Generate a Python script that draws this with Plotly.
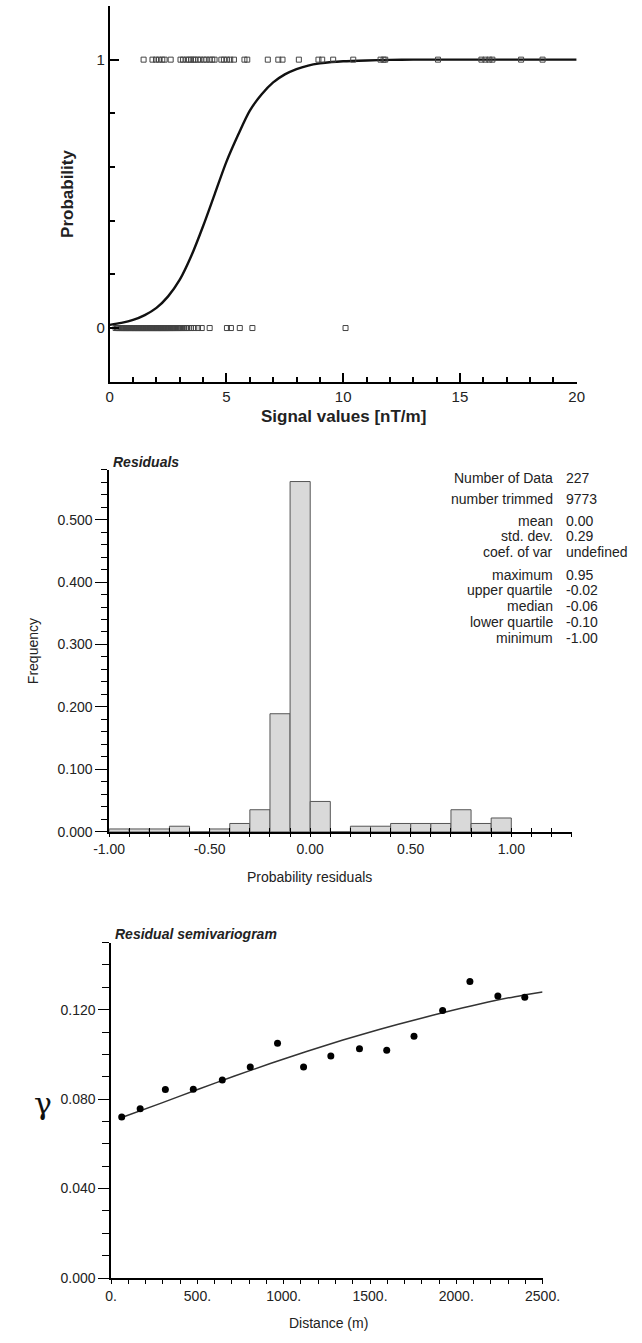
import plotly.graph_objects as go

W, H = 642, 1343

# ---------------- data ----------------
# Top panel: observations (signal value, class 1) and (signal value, class 0)
signal_one = [1.45, 1.83, 1.98, 2.11, 2.25, 2.35, 2.61, 3.03, 3.14, 3.28, 3.39, 3.48,
              3.58, 3.66, 3.78, 3.89, 4.03, 4.14, 4.28, 4.39, 4.49, 4.78, 4.89, 5.02,
              5.16, 5.32, 5.77, 5.89, 6.77, 7.22, 7.40, 8.10, 8.94, 9.10, 9.57, 10.43,
              11.60, 11.73, 11.80, 14.06, 15.92, 16.09, 16.26, 16.39, 17.62, 18.54]
signal_zero = [0.25, 0.31, 0.35, 0.38, 0.42, 0.47, 0.50, 0.53, 0.57, 0.60, 0.62, 0.66,
               0.69, 0.71, 0.74, 0.78, 0.80, 0.83, 0.86, 0.90, 0.92, 0.95, 0.98, 1.01,
               1.04, 1.06, 1.09, 1.12, 1.15, 1.18, 1.20, 1.23, 1.26, 1.28, 1.31, 1.34,
               1.37, 1.40, 1.42, 1.45, 1.48, 1.50, 1.53, 1.56, 1.59, 1.62, 1.64, 1.67,
               1.70, 1.73, 1.76, 1.78, 1.81, 1.84, 1.87, 1.90, 1.92, 1.95, 1.98, 2.01,
               2.04, 2.06, 2.09, 2.12, 2.15, 2.18, 2.20, 2.23, 2.26, 2.29, 2.32, 2.35,
               2.38, 2.41, 2.44, 2.47, 2.50, 2.53, 2.57, 2.60, 2.64, 2.67, 2.71, 2.75,
               2.79, 2.83, 2.87, 2.92, 2.96, 3.01, 3.06, 3.12, 3.18, 3.25, 3.31, 3.38,
               3.48, 3.62, 3.78, 3.94, 4.28, 5.02, 5.19, 5.57, 6.11, 10.10]
# Fitted logistic curve
curve_x = [0, 0.5, 1, 1.5, 2, 2.5, 3, 3.5, 4, 4.5, 5, 5.5, 6, 6.5, 7, 7.5, 8, 8.5,
           9, 9.5, 10, 11, 12, 13, 14, 16, 18, 20]
curve_p = [0.012, 0.019, 0.030, 0.048, 0.075, 0.118, 0.18, 0.27, 0.38, 0.50, 0.62,
           0.72, 0.81, 0.87, 0.915, 0.945, 0.965, 0.978, 0.986, 0.991, 0.994,
           0.997, 0.999, 1.0, 1.0, 1.0, 1.0, 1.0]

# Middle panel: histogram of residuals
bin_left = [-1.0, -0.9, -0.8, -0.7, -0.6, -0.5, -0.4, -0.3, -0.2, -0.1,
            0.0, 0.1, 0.2, 0.3, 0.4, 0.5, 0.6, 0.7, 0.8, 0.9]
bin_freq = [0.0044, 0.0044, 0.0044, 0.0088, 0.0, 0.0044, 0.0132, 0.0352, 0.189, 0.561,
            0.0485, 0.0, 0.0088, 0.0088, 0.0132, 0.0132, 0.0132, 0.0352, 0.0132, 0.022]
stat_labels = ["Number of Data", "number trimmed", "mean", "std. dev.", "coef. of var",
               "maximum", "upper quartile", "median", "lower quartile", "minimum"]
stat_values = ["227", "9773", "0.00", "0.29", "undefined",
               "0.95", "-0.02", "-0.06", "-0.10", "-1.00"]

# Bottom panel: residual semivariogram
lag_dist = [61, 168, 314, 476, 644, 806, 964, 1115, 1273, 1439, 1597, 1755,
            1921, 2079, 2241, 2397]
gamma_exp = [0.0720, 0.0757, 0.0843, 0.0844, 0.0886, 0.0944, 0.1050, 0.0944,
             0.0993, 0.1025, 0.1019, 0.1081, 0.1196, 0.1326, 0.1261, 0.1255]
model_dist = [61, 290, 501, 711, 922, 1132, 1343, 1553, 1764, 1974, 2185, 2340, 2500]
model_gamma = [0.0718, 0.0782, 0.0843, 0.0902, 0.0959, 0.1013, 0.1064, 0.1111,
               0.1155, 0.1196, 0.1234, 0.1258, 0.1279]

# ---------------- helpers ----------------
def fx(p):
    return p / W

def fy(p):
    return 1 - p / H

FONT = "Liberation Sans, Arial, sans-serif"
TXT = "#222222"

fig = go.Figure()

# Top panel
fig.add_trace(go.Scatter(x=curve_x, y=curve_p, mode="lines",
                         line=dict(color="#111111", width=2.4, shape="spline", smoothing=0.8),
                         xaxis="x", yaxis="y", hoverinfo="skip"))
fig.add_trace(go.Scatter(x=signal_one, y=[1] * len(signal_one), mode="markers",
                         marker=dict(symbol="square-open", size=5, color="#444444", line=dict(width=1)),
                         xaxis="x", yaxis="y", cliponaxis=False))
fig.add_trace(go.Scatter(x=signal_zero, y=[0] * len(signal_zero), mode="markers",
                         marker=dict(symbol="square-open", size=5, color="#444444", line=dict(width=1)),
                         xaxis="x", yaxis="y", cliponaxis=False))

# Histogram
fig.add_trace(go.Bar(x=bin_left, y=bin_freq, width=0.1, offset=0,
                     marker=dict(color="#d9d9d9", line=dict(color="#555555", width=1)),
                     xaxis="x2", yaxis="y2"))
# empty trace so the tick-overlay axis is drawn
fig.add_trace(go.Scatter(x=[], y=[], xaxis="x4", yaxis="y2", hoverinfo="skip"))

# Semivariogram
fig.add_trace(go.Scatter(x=model_dist, y=model_gamma, mode="lines",
                         line=dict(color="#333333", width=1.5, shape="spline", smoothing=0.8),
                         xaxis="x3", yaxis="y3"))
fig.add_trace(go.Scatter(x=lag_dist, y=gamma_exp, mode="markers",
                         marker=dict(symbol="circle", size=7, color="#000000"),
                         xaxis="x3", yaxis="y3", cliponaxis=False))

common = dict(showgrid=False, zeroline=False, showline=True, linecolor="#000000",
              tickcolor="#000000", tickfont=dict(family=FONT, size=14, color=TXT))

hist_ticks = [-1, -0.5, 0, 0.5, 1]

layout = dict(
    width=W, height=H, margin=dict(l=0, r=0, t=0, b=0),
    paper_bgcolor="white", plot_bgcolor="white", showlegend=False,
    font=dict(family=FONT, color=TXT),
    xaxis=dict(common, domain=[fx(99), fx(592)], range=[0, 20], anchor="y",
               linewidth=2, ticks="inside", ticklen=9, tickwidth=1.5,
               tickvals=[0, 5, 10, 15, 20], ticktext=["0", "5", "10", "15", "20"],
               tickfont=dict(family=FONT, size=15, color=TXT),
               minor=dict(dtick=1, tick0=0, ticks="inside", ticklen=5, tickcolor="#000000")),
    yaxis=dict(common, domain=[fy(384), fy(6)], range=[-0.2, 1.2], anchor="x",
               linewidth=2, ticks="inside", ticklen=9, tickwidth=1.5,
               tickvals=[0, 1], ticktext=["0", "1"],
               tickfont=dict(family=FONT, size=15, color=TXT),
               minor=dict(dtick=0.2, tick0=0, ticks="inside", ticklen=5, tickcolor="#000000")),
    xaxis2=dict(common, domain=[fx(98.3), fx(586.7)], range=[-1, 1.3], anchor="y2",
                linewidth=1.5, ticks="outside", ticklen=4,
                tickvals=hist_ticks, ticktext=["-1.00", "-0.50", "0.00", "0.50", "1.00"],
                minor=dict(dtick=0.1, tick0=0, ticks="outside", ticklen=4, tickcolor="#000000")),
    xaxis4=dict(domain=[fx(98.3), fx(586.7)], range=[-1, 1.3], anchor="y2", overlaying="x2",
                showgrid=False, zeroline=False, showline=False, showticklabels=False,
                ticks="inside", ticklen=4, tickcolor="#000000", tickvals=hist_ticks,
                minor=dict(dtick=0.1, tick0=0, ticks="inside", ticklen=4, tickcolor="#000000")),
    yaxis2=dict(common, domain=[fy(836.7), fy(472.5)], range=[0, 0.58], anchor="x2",
                linewidth=1.5, ticks="outside", ticklen=12,
                tickvals=[0, 0.1, 0.2, 0.3, 0.4, 0.5],
                ticktext=["0.000", "0.100", "0.200", "0.300", "0.400", "0.500"],
                minor=dict(dtick=0.02, tick0=0, ticks="outside", ticklen=6, tickcolor="#000000")),
    xaxis3=dict(common, domain=[fx(100.5), fx(556)], range=[0, 2500], anchor="y3",
                linewidth=1.5, ticks="outside", ticklen=4,
                tickvals=[0, 500, 1000, 1500, 2000, 2500],
                ticktext=["0.", "500.", "1000.", "1500.", "2000.", "2500."],
                minor=dict(dtick=100, tick0=0, ticks="outside", ticklen=4, tickcolor="#000000")),
    yaxis3=dict(common, domain=[fy(1285.7), fy(948.2)], range=[0, 0.15], anchor="x3",
                linewidth=1.5, ticks="outside", ticklen=11,
                tickvals=[0, 0.04, 0.08, 0.12], ticktext=["0.000", "0.040", "0.080", "0.120"],
                minor=dict(dtick=0.01, tick0=0, ticks="outside", ticklen=7, tickcolor="#000000")),
)

ann = []
def text(x, y, s, size=14, xanchor="center", yanchor="middle", angle=0, family=FONT, color=TXT):
    ann.append(dict(x=fx(x), y=fy(y), xref="paper", yref="paper", text=s, showarrow=False,
                    xanchor=xanchor, yanchor=yanchor, textangle=angle,
                    font=dict(family=family, size=size, color=color)))

# Top panel titles
text(346, 419, "<b>Signal values [nT/m]</b>", size=17)
text(55, 195, "<b>Probability</b>", size=17, angle=-90)
# Histogram titles
text(100, 465, "<b><i>Residuals</i></b>", size=14, xanchor="left")
text(18, 655, "Frequency", size=14, angle=-90)
text(310, 882, "Probability residuals", size=14)
stat_y = [481, 502, 524, 539, 555, 578, 594, 610, 626, 642]
for lab, val, yy in zip(stat_labels, stat_values, stat_y):
    text(569, yy, lab, size=14, xanchor="right")
    text(579, yy, val, size=14, xanchor="left")
# Semivariogram titles
text(102, 940, "<b><i>Residual semivariogram</i></b>", size=14, xanchor="left")
text(29, 1110, "γ", size=30, family="DejaVu Serif, Liberation Serif, serif", color="#111111")
text(330, 1331, "Distance (m)", size=14)

layout["annotations"] = ann
fig.update_layout(**layout)
fig.write_html("out.html")
